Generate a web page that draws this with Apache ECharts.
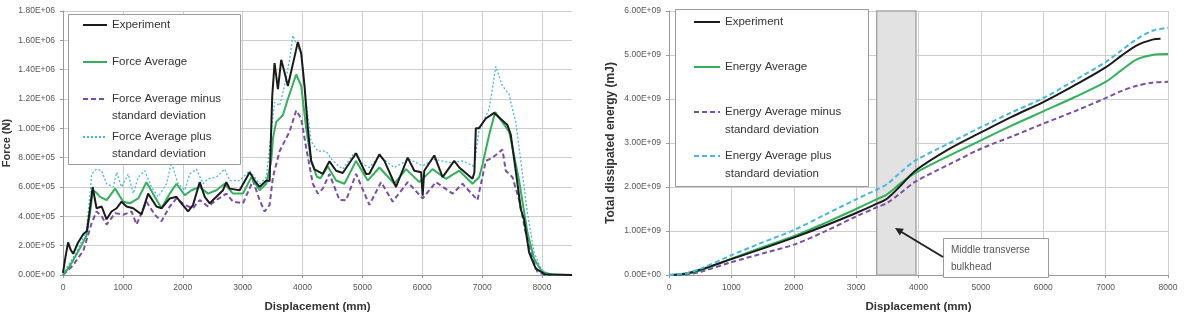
<!DOCTYPE html>
<html>
<head>
<meta charset="utf-8">
<script src="https://cdn.jsdelivr.net/npm/echarts@6/dist/echarts.min.js"></script>
<style>html,body{margin:0;padding:0;background:#fff;}#c{width:1187px;height:318px;}</style>
</head>
<body>
<div id="c"></div>
<script>
// ---------- Left chart: Force (N) vs Displacement (mm) ----------
const forceExperimentX = [0,40,85,130,170,250,340,400,440,495,560,645,728,810,895,978,1061,1172,1311,1422,1561,1645,1783,1895,1978,2089,2172,2283,2367,2450,2561,2672,2728,2783,2950,3117,3200,3283,3395,3450,3494,3533,3589,3644,3700,3755,3867,3922,3978,4033,4089,4144,4200,4339,4450,4561,4672,4894,5061,5116,5283,5367,5561,5756,5867,5980,6006,6033,6200,6339,6533,6617,6839,6870,6894,6944,7061,7200,7228,7422,7478,7530,7583,7644,7700,7783,7894,8050,8500];
const forceExperimentY = [15e3,120e3,222e3,170e3,145e3,220e3,280e3,300e3,420e3,600e3,455e3,467e3,380e3,433e3,455e3,500e3,467e3,455e3,413e3,555e3,467e3,455e3,522e3,533e3,489e3,433e3,478e3,633e3,533e3,489e3,533e3,578e3,633e3,589e3,578e3,700e3,644e3,600e3,644e3,640e3,1220e3,1445e3,1267e3,1467e3,1380e3,1289e3,1489e3,1589e3,1511e3,1289e3,1000e3,778e3,720e3,690e3,775e3,711e3,695e3,830e3,689e3,690e3,822e3,778e3,600e3,800e3,711e3,700e3,540e3,711e3,815e3,667e3,778e3,733e3,656e3,700e3,1000e3,1000e3,1067e3,1105e3,1111e3,1022e3,956e3,800e3,644e3,450e3,378e3,155e3,44e3,5e3,0];

const forceAverageX = [0,80,170,280,390,450,500,560,620,730,870,1006,1117,1256,1394,1533,1645,1783,1895,2033,2145,2283,2422,2561,2700,2839,3006,3144,3283,3395,3478,3506,3561,3672,3755,3894,3978,4061,4144,4239,4300,4422,4561,4700,4894,5089,5283,5533,5728,5950,6172,6394,6617,6839,6950,7006,7117,7217,7450,7617,7756,7867,8000,8180,8500];
const forceAverageY = [0,40e3,100e3,180e3,267e3,420e3,578e3,560e3,533e3,511e3,589e3,500e3,489e3,522e3,633e3,533e3,455e3,555e3,622e3,544e3,578e3,600e3,555e3,578e3,622e3,555e3,555e3,667e3,578e3,622e3,778e3,933e3,1044e3,1089e3,1200e3,1367e3,1289e3,1000e3,778e3,670e3,660e3,740e3,644e3,622e3,778e3,644e3,733e3,622e3,722e3,633e3,722e3,656e3,711e3,622e3,667e3,755e3,956e3,1111e3,978e3,644e3,289e3,111e3,22e3,0,0];

const forceMinusX = [0,170,340,480,560,645,728,870,1006,1145,1228,1394,1533,1645,1783,1895,2033,2172,2283,2422,2561,2728,2839,3006,3172,3283,3367,3450,3506,3617,3700,3783,3894,3978,4061,4172,4256,4339,4450,4617,4728,4894,5117,5311,5506,5756,6006,6228,6506,6672,6922,7061,7172,7339,7394,7506,7617,7728,7811,7922,8050,8500];
const forceMinusY = [0,67e3,167e3,355e3,433e3,400e3,344e3,422e3,411e3,433e3,344e3,500e3,411e3,367e3,467e3,522e3,478e3,455e3,511e3,467e3,511e3,555e3,500e3,489e3,644e3,511e3,433e3,478e3,667e3,844e3,911e3,978e3,1122e3,1067e3,867e3,622e3,555e3,589e3,689e3,511e3,510e3,689e3,478e3,633e3,500e3,633e3,522e3,633e3,555e3,622e3,511e3,778e3,800e3,855e3,711e3,667e3,511e3,289e3,155e3,22e3,0,0];

const forcePlusX = [0,55,225,390,440,480,560,645,728,840,895,978,1089,1172,1256,1367,1478,1589,1728,1811,1922,2033,2117,2228,2339,2422,2561,2700,2783,2950,3117,3283,3395,3450,3533,3617,3700,3783,3839,3894,3978,4061,4144,4256,4395,4506,4672,4867,5005,5117,5283,5533,5783,6006,6200,6450,6672,6867,6944,7117,7228,7339,7450,7505,7561,7672,7756,7867,7978,8117,8500];
const forcePlusY = [0,44e3,155e3,300e3,500e3,689e3,722e3,711e3,622e3,600e3,700e3,600e3,689e3,555e3,667e3,711e3,600e3,533e3,622e3,767e3,622e3,578e3,689e3,722e3,622e3,656e3,667e3,722e3,644e3,644e3,711e3,622e3,667e3,867e3,1178e3,1155e3,1289e3,1467e3,1633e3,1578e3,1511e3,1178e3,911e3,844e3,844e3,778e3,722e3,833e3,755e3,733e3,811e3,733e3,789e3,744e3,789e3,767e3,778e3,740e3,978e3,1133e3,1422e3,1289e3,1233e3,1133e3,1044e3,689e3,422e3,155e3,44e3,0,0];

const forceNames = ['Experiment','Force Average','Force Average minus\nstandard deviation','Force Average plus\nstandard deviation'];

// ---------- Right chart: Total dissipated energy (mJ) ----------
const energyExperimentX = [0,250,500,1000,1500,2000,2500,3000,3300,3500,3700,3950,4500,5000,5500,6000,6500,7000,7250,7500,7750,7880];
const energyExperimentY = [0,0.03e9,0.12e9,0.36e9,0.6e9,0.85e9,1.12e9,1.41e9,1.6e9,1.74e9,2.01e9,2.37e9,2.87e9,3.24e9,3.6e9,3.93e9,4.31e9,4.72e9,4.98e9,5.22e9,5.35e9,5.37e9];
const energyX = [0,250,500,1000,1500,2000,2500,3000,3300,3500,3700,3950,4500,5000,5500,6000,6500,7000,7250,7500,7750,8000];
const energyAverageY = [0,0.02e9,0.1e9,0.37e9,0.63e9,0.88e9,1.18e9,1.5e9,1.7e9,1.84e9,2.07e9,2.32e9,2.72e9,3.06e9,3.4e9,3.72e9,4.04e9,4.39e9,4.65e9,4.9e9,5.0e9,5.02e9];
const energyMinusY = [0,0.01e9,0.07e9,0.29e9,0.49e9,0.69e9,0.99e9,1.33e9,1.52e9,1.64e9,1.85e9,2.12e9,2.52e9,2.87e9,3.15e9,3.44e9,3.72e9,4.02e9,4.18e9,4.3e9,4.37e9,4.39e9];
const energyPlusY = [0,0.03e9,0.14e9,0.45e9,0.74e9,1.02e9,1.37e9,1.72e9,1.92e9,2.07e9,2.32e9,2.6e9,3.0e9,3.36e9,3.7e9,4.02e9,4.42e9,4.84e9,5.1e9,5.36e9,5.55e9,5.62e9];
const energyNames = ['Experiment','Energy Average','Energy Average minus\nstandard deviation','Energy Average plus\nstandard deviation'];
const bulkheadRange = [3330, 3960];
const annotationText = 'Middle transverse\nbulkhead';

const forceXTicks = {min:0, max:8500, interval:1000};
const forceYTicks = {min:0, max:1.8e6, interval:2e5};
const energyXTicks = {min:0, max:8000, interval:1000};
const energyYTicks = {min:0, max:6e9, interval:1e9};

function pairs(xs, ys){ return xs.map((x,i)=>[x, ys[i]]); }
function sci(v){
  if (v === 0) return '0.00E+00';
  const e = Math.floor(Math.log10(Math.abs(v)) + 1e-9);
  const m = v / Math.pow(10, e);
  return m.toFixed(2) + 'E+' + String(e).padStart(2,'0');
}

const FONT = 'Liberation Sans';
const C_BLACK = '#1b1b1b', C_GREEN = '#2fb25a', C_PURPLE = '#7a4ea8', C_CYAN = '#45b8e0';
const axisLabel = {fontSize:8.5, color:'#555', fontFamily:FONT};

function xAxisDef(idx, t, gap){
  const aligned = t.max % t.interval === 0;
  return {gridIndex:idx, type:'value', min:t.min, max:t.max, interval:t.interval,
    name:'Displacement (mm)', nameLocation:'middle', nameGap:gap,
    nameTextStyle:{fontSize:11.5, fontWeight:'bold', color:'#333', fontFamily:FONT},
    axisLine:{lineStyle:{color:'#999'}}, axisTick:{show:true, length:3, lineStyle:{color:'#999'}},
    axisLabel:Object.assign({margin:8, showMaxLabel: aligned, formatter:v=>String(v)}, axisLabel),
    splitLine:{show:true, showMaxLine: aligned, lineStyle:{color:'#cdcdcd', width:1}}};
}
function yAxisDef(idx, t, name, gap, fs){
  return {gridIndex:idx, type:'value', min:t.min, max:t.max, interval:t.interval,
    name:name, nameLocation:'middle', nameGap:gap,
    nameTextStyle:{fontSize:fs, fontWeight:'bold', color:'#333', fontFamily:FONT},
    axisLine:{show:true, lineStyle:{color:'#999'}}, axisTick:{show:true, length:3, lineStyle:{color:'#999'}},
    axisLabel:Object.assign({margin:8, formatter:sci}, axisLabel),
    splitLine:{show:true, lineStyle:{color:'#cdcdcd', width:1}}};
}

const legendText = {fontSize:11.5, color:'#333', fontFamily:FONT};
// two-line entries get a blank leading line so the first text line sits level with the line sample
function legendItem(name, left, iconCenter, lh, w){
  const two = name.indexOf('\n') >= 0;
  return {data:[name], left:left, top: two ? iconCenter - 1.5*lh : iconCenter - 0.5*lh, padding:0,
    itemWidth:w, itemHeight:12, selectedMode:false,
    formatter: two ? (n => '\n' + n) : (n => n),
    itemStyle:{color:'rgba(0,0,0,0)', borderWidth:0, opacity:0},
    textStyle:Object.assign({lineHeight:lh}, legendText)};
}

const option = {
  animation:false,
  backgroundColor:'#fff',
  grid:[
    {left:63, right:615, top:11, bottom:38},
    {left:669, right:19, top:11, bottom:37}
  ],
  xAxis:[xAxisDef(0, forceXTicks, 26), xAxisDef(1, energyXTicks, 26)],
  yAxis:[yAxisDef(0, forceYTicks, 'Force (N)', 51, 11), yAxisDef(1, energyYTicks, 'Total dissipated energy (mJ)', 52, 12)],
  legend:[
    legendItem(forceNames[0], 82, 25, 17, 24),
    legendItem(forceNames[1], 82, 62, 17, 24),
    legendItem(forceNames[2], 82, 99, 17, 24),
    legendItem(forceNames[3], 82, 137, 17, 24),
    legendItem(energyNames[0], 693, 22, 18, 26),
    legendItem(energyNames[1], 693, 67, 18, 26),
    legendItem(energyNames[2], 693, 112, 18, 26),
    legendItem(energyNames[3], 693, 156, 18, 26)
  ],
  graphic:[
    {type:'rect', z:3, shape:{x:68.5, y:14.5, width:172, height:150}, style:{fill:'#fff', stroke:'#9a9a9a', lineWidth:1}},
    {type:'rect', z:3, shape:{x:675.5, y:9.5, width:193, height:177}, style:{fill:'#fff', stroke:'#9a9a9a', lineWidth:1}},
    {type:'rect', z:5, shape:{x:943.5, y:238.5, width:105, height:39}, style:{fill:'#fff', stroke:'#9a9a9a', lineWidth:1}},
    {type:'text', z:6, x:951, y:242, style:{text:annotationText, fontSize:10, lineHeight:17, fill:'#555', fontFamily:FONT}},
    {type:'line', z:6, shape:{x1:943, y1:257, x2:899, y2:230.5}, style:{stroke:'#222', lineWidth:2}},
    {type:'polygon', z:6, shape:{points:[[895,228],[899.8,235.6],[903.9,228.7]]}, style:{fill:'#222'}}
  ],
  series:[
    {name:forceNames[3], type:'line', xAxisIndex:0, yAxisIndex:0, data:pairs(forcePlusX, forcePlusY), symbol:'none', z:2,
      lineStyle:{color:C_CYAN, width:1.3, type:[2,2]}, itemStyle:{color:C_CYAN}},
    {name:forceNames[2], type:'line', xAxisIndex:0, yAxisIndex:0, data:pairs(forceMinusX, forceMinusY), symbol:'none', z:2,
      lineStyle:{color:C_PURPLE, width:2, type:[5,3]}, itemStyle:{color:C_PURPLE}},
    {name:forceNames[1], type:'line', xAxisIndex:0, yAxisIndex:0, data:pairs(forceAverageX, forceAverageY), symbol:'none', z:2,
      lineStyle:{color:C_GREEN, width:2}, itemStyle:{color:C_GREEN}},
    {name:forceNames[0], type:'line', xAxisIndex:0, yAxisIndex:0, data:pairs(forceExperimentX, forceExperimentY), symbol:'none', z:2,
      lineStyle:{color:C_BLACK, width:2}, itemStyle:{color:C_BLACK}},

    {name:'bulkhead', type:'line', xAxisIndex:1, yAxisIndex:1, data:[], symbol:'none', z:1,
      markArea:{silent:true, itemStyle:{color:'#e2e2e2', borderColor:'#a8a8a8', borderWidth:1.5},
        data:[[{xAxis:bulkheadRange[0]},{xAxis:bulkheadRange[1]}]]}},
    {name:energyNames[2], type:'line', xAxisIndex:1, yAxisIndex:1, data:pairs(energyX, energyMinusY), symbol:'none', smooth:0.3, z:2,
      lineStyle:{color:C_PURPLE, width:2, type:[5,3]}, itemStyle:{color:C_PURPLE}},
    {name:energyNames[1], type:'line', xAxisIndex:1, yAxisIndex:1, data:pairs(energyX, energyAverageY), symbol:'none', smooth:0.3, z:2,
      lineStyle:{color:C_GREEN, width:2}, itemStyle:{color:C_GREEN}},
    {name:energyNames[0], type:'line', xAxisIndex:1, yAxisIndex:1, data:pairs(energyExperimentX, energyExperimentY), symbol:'none', smooth:0.3, z:2,
      lineStyle:{color:C_BLACK, width:2}, itemStyle:{color:C_BLACK}},
    {name:energyNames[3], type:'line', xAxisIndex:1, yAxisIndex:1, data:pairs(energyX, energyPlusY), symbol:'none', smooth:0.3, z:2,
      lineStyle:{color:C_CYAN, width:2, type:[5,3]}, itemStyle:{color:C_CYAN}}
  ]
};
const chart = echarts.init(document.getElementById('c'), null, {renderer:'canvas'});
chart.setOption(option);
</script>
</body>
</html>
